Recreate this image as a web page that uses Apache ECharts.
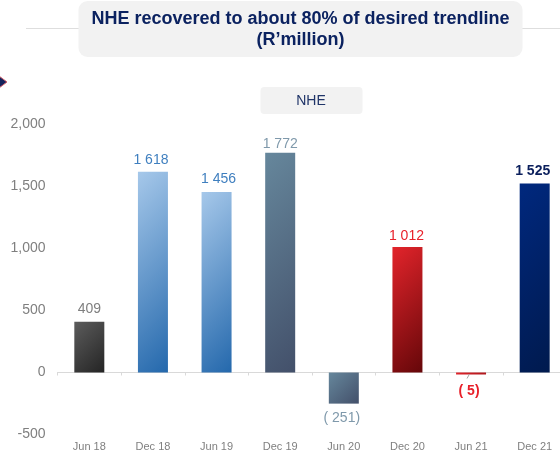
<!DOCTYPE html>
<html>
<head>
<meta charset="utf-8">
<style>html,body{margin:0;padding:0;background:#fff}#chart{width:560px;height:457px}</style>
<script src="https://cdn.jsdelivr.net/npm/echarts@6/dist/echarts.min.js"></script>
</head>
<body>
<div id="chart"></div>
<script>
const categories = ['Jun 18', 'Dec 18', 'Jun 19', 'Dec 19', 'Jun 20', 'Dec 20', 'Jun 21', 'Dec 21'];
const values = [409, 1618, 1456, 1772, -251, 1012, -5, 1525];
const valueLabels = ['409', '1 618', '1 456', '1 772', '( 251)', '1 012', '( 5)', '1 525'];
const gradientStart = ['#5c5c5c', '#a6c8ea', '#a6c8ea', '#66879c', '#66879c', '#e3242b', '#e3242b', '#00287e'];
const gradientEnd = ['#242424', '#2468ac', '#2468ac', '#43506a', '#43506a', '#650709', '#650709', '#001a4e'];
const labelColors = ['#7f7f7f', '#3f7fbf', '#3f7fbf', '#7f99ab', '#7f99ab', '#e8202a', '#e8202a', '#0b1f5c'];
const boldLabels = [false, false, false, false, false, false, true, true];
const labelGaps = [6, 5, 6, 2, 8, 4, 10, 5];
const labelShifts = [0, -2, 2, 0, -2, -1, -2, -2];

const FONT = '"Liberation Sans", Arial, sans-serif';
const NAVY = '#0b2260';
const BAR_WIDTH = 30;
const PLOT_HEIGHT = 310;
const AXIS_SPAN = 2500;

const chart = echarts.init(document.getElementById('chart'), null, { renderer: 'canvas' });

// Gradient running at a true 45 degrees across a bar, whatever its height
function diagonalFill(value, from, to) {
  const barHeight = Math.max(Math.abs(value) * PLOT_HEIGHT / AXIS_SPAN, 1);
  const reach = (BAR_WIDTH + barHeight) / 2;
  return new echarts.graphic.LinearGradient(0, 0, reach / BAR_WIDTH, reach / barHeight, [
    { offset: 0, color: from },
    { offset: 1, color: to }
  ]);
}

const barData = values.map((value, i) => ({
  value,
  itemStyle: { color: diagonalFill(value, gradientStart[i], gradientEnd[i]) },
  label: {
    position: value < 0 ? 'bottom' : 'top',
    distance: labelGaps[i],
    offset: [labelShifts[i], 0],
    color: labelColors[i],
    fontWeight: boldLabels[i] ? 'bold' : 'normal',
    formatter: valueLabels[i]
  }
}));

chart.setOption({
  animation: false,
  backgroundColor: '#fff',
  textStyle: { fontFamily: FONT },
  grid: { left: 57.5, top: 124.5, width: 509, height: PLOT_HEIGHT, containLabel: false, outerBoundsMode: 'none' },
  xAxis: {
    type: 'category',
    data: categories,
    axisLine: { onZero: true, lineStyle: { color: '#d9d9d9', width: 1 } },
    axisTick: { show: true, length: 3, alignWithLabel: false, lineStyle: { color: '#d9d9d9' } },
    // Category names sit along the bottom of the plot, away from the zero line
    axisLabel: { margin: 7, fontSize: 11, color: '#7f7f7f', interval: 0, fontFamily: FONT },
    splitLine: { show: false }
  },
  yAxis: {
    type: 'value',
    min: -500,
    max: 2000,
    interval: 500,
    axisLine: { show: false },
    axisTick: { show: false },
    splitLine: { show: false },
    axisLabel: {
      margin: 12,
      fontSize: 14,
      color: '#7f7f7f',
      fontFamily: FONT,
      formatter: v => v.toLocaleString('en-US')
    }
  },
  series: [{
    type: 'bar',
    barWidth: BAR_WIDTH,
    barMinHeight: 2,
    data: barData,
    label: { show: true, fontSize: 14, fontFamily: FONT }
  }],
  graphic: [
    { type: 'line', z: 1, shape: { x1: 26, y1: 28.5, x2: 560, y2: 28.5 }, style: { stroke: '#dedede', lineWidth: 1 } },
    { type: 'rect', z: 2, shape: { x: 78.5, y: 1, width: 444, height: 56, r: 9 }, style: { fill: '#f2f2f2' } },
    {
      type: 'text', z: 3, x: 300.5, y: 29.5,
      style: {
        text: 'NHE recovered to about 80% of desired trendline\n(R\u2019million)',
        fill: NAVY, font: 'bold 18px ' + FONT, align: 'center', verticalAlign: 'middle', lineHeight: 21
      }
    },
    { type: 'rect', z: 2, shape: { x: 260.5, y: 87, width: 102, height: 27, r: 4 }, style: { fill: '#f2f2f2' } },
    {
      type: 'text', z: 3, x: 311, y: 101,
      style: { text: 'NHE', fill: '#1f3468', font: '14px ' + FONT, align: 'center', verticalAlign: 'middle' }
    },
    // Small arrow marker cut off by the left edge
    { type: 'polygon', z: 3, shape: { points: [[-1, 76], [7, 82], [-1, 88]] }, style: { fill: '#14245c', stroke: '#d8606a', lineWidth: 1 } },
    // Leader from the Jun 21 bar to its label
    { type: 'line', z: 3, shape: { x1: 469.5, y1: 374, x2: 467, y2: 378.5 }, style: { stroke: '#a6a6a6', lineWidth: 1 } }
  ]
});
</script>
</body>
</html>
